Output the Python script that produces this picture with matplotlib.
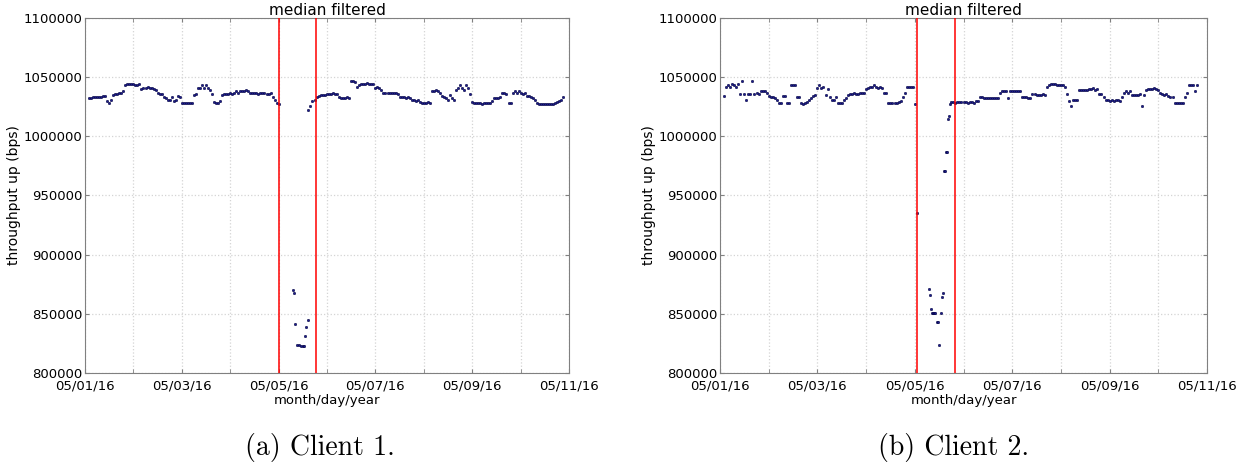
import numpy as np
import matplotlib
matplotlib.use("Agg")
import matplotlib.pyplot as plt
import matplotlib.dates as mdates
from matplotlib.ticker import FormatStrFormatter

nan = np.nan

# hourly throughput (kbps), hour 0 = 05/01/16 00:00
c1_kbps = [
    nan, nan, 1032, 1032, 1033, 1033, 1033, 1033, 1033, 1034, 1034, 1030,
    1028, 1031, 1035, 1036, 1036, 1037, 1037, 1038, 1043, 1044, 1044, 1044,
    1044, 1043, 1043, 1044, 1040, 1041, 1041, 1042, 1041, 1041, 1040, 1039,
    1037, 1036, 1036, 1033, 1032, 1031, 1031, 1033, 1030, 1031, 1034, 1033,
    1028, 1028, 1028, 1028, 1028, 1028, 1035, 1036, 1041, 1041, 1043, 1041,
    1043, 1041, 1039, 1036, 1029, 1028, 1028, 1030, 1035, 1036, 1036, 1036,
    1037, 1036, 1037, 1038, 1037, 1038, 1038, 1038, 1039, 1038, 1037, 1037,
    1037, 1037, 1036, 1037, 1037, 1037, 1036, 1036, 1037, 1033, 1031, 1028,
    1027, nan, nan, nan, nan, nan, nan, nan, nan, nan, nan, nan,
    nan, nan, nan, nan, nan, nan, 1031, 1033, 1034, 1035, 1035, 1035,
    1036, 1036, 1036, 1037, 1036, 1036, 1033, 1032, 1032, 1032, 1033, 1032,
    1047, 1047, 1046, 1042, 1043, 1044, 1044, 1044, 1045, 1044, 1044, 1044,
    1041, 1042, 1041, 1039, 1037, 1037, 1037, 1037, 1037, 1037, 1037, 1036,
    1033, 1033, 1033, 1032, 1033, 1032, 1031, 1031, 1030, 1031, 1029, 1028,
    1028, 1028, 1029, 1028, 1038, 1038, 1039, 1038, 1037, 1034, 1033, 1032,
    1031, 1035, 1032, 1031, 1039, 1041, 1043, 1041, 1039, 1043, 1041, 1036,
    1029, 1028, 1028, 1028, 1028, 1027, 1028, 1028, 1028, 1028, 1030, 1032,
    1032, 1032, 1033, 1037, 1037, 1036, 1028, 1028, 1037, 1038, 1037, 1038,
    1037, 1036, 1037, 1034, 1034, 1033, 1032, 1031, 1028, 1027, 1027, 1027,
    1027, 1027, 1027, 1027, 1027, 1028, 1029, 1030, 1031, 1033, nan, nan,
]
c1_dip_hours = [103.2, 103.6, 104.2, 105.2, 106.0, 107.0, 108.0, 108.6, 109.2,
                109.7, 110.6, 110.8, 111.6, 112.6]
c1_dip_kbps = [870, 868, 841, 824, 824, 823, 823, 823, 831,
               839, 845, 1022, 1026, 1030]

c2_kbps = [
    nan, nan, 1034, 1042, 1043, 1042, 1044, 1043, 1042, 1044, 1036, 1047,
    1036, 1031, 1036, 1036, 1047, 1036, 1037, 1036, 1038, 1038, 1038, 1037,
    1034, 1033, 1033, 1032, 1031, 1028, 1028, 1034, 1034, 1028, 1028, 1043,
    1043, 1043, 1033, 1033, 1028, 1027, 1028, 1029, 1031, 1032, 1034, 1035,
    1041, 1043, 1041, 1042, 1035, 1040, 1033, 1031, 1031, 1033, 1028, 1028,
    1028, 1031, 1032, 1035, 1036, 1036, 1037, 1036, 1036, 1037, 1037, 1037,
    1040, 1041, 1042, 1042, 1043, 1042, 1041, 1042, 1041, 1037, 1037, 1028,
    1028, 1028, 1028, 1028, 1029, 1030, 1033, 1037, 1042, 1042, 1042, 1042,
    1027, nan, nan, nan, nan, nan, nan, nan, nan, nan, nan, nan,
    nan, nan, nan, nan, nan, nan, 1029, 1029, 1028, 1029, 1029, 1029,
    1029, 1029, 1028, 1029, 1029, 1028, 1030, 1030, 1033, 1033, 1032, 1032,
    1032, 1032, 1032, 1032, 1032, 1032, 1037, 1038, 1038, 1038, 1032, 1038,
    1038, 1038, 1038, 1038, 1038, 1033, 1033, 1033, 1032, 1032, 1036, 1036,
    1035, 1035, 1035, 1036, 1035, 1042, 1043, 1044, 1044, 1044, 1043, 1043,
    1043, 1043, 1042, 1036, 1030, 1026, 1031, 1031, 1031, 1039, 1039, 1039,
    1039, 1039, 1040, 1040, 1041, 1039, 1040, 1036, 1036, 1033, 1031, 1031,
    1030, 1031, 1030, 1031, 1031, 1030, 1033, 1037, 1038, 1037, 1038, 1035,
    1035, 1035, 1035, 1036, 1026, 1035, 1039, 1040, 1040, 1040, 1041, 1040,
    1039, 1037, 1036, 1035, 1036, 1034, 1033, 1033, 1028, 1028, 1028, 1028,
    1028, 1033, 1037, 1043, 1043, 1043, 1038, 1043, nan, nan, nan, nan,
]
c2_dip_hours = [97.0, 103.0, 103.5, 104.0, 104.5, 105.0, 105.5, 106.0, 107.0,
                107.5, 108.0, 109.0, 109.4, 110.0, 110.4, 110.9, 111.4, 111.8,
                112.4, 113.0, 113.4]
c2_dip_kbps = [935, 871, 866, 854, 851, 851, 851, 851, 843,
               843, 824, 851, 864, 868, 971, 971, 987, 987,
               1015, 1017, 1027]

# change points (hours after 05/01/16 00:00)
c1_events = [96.0, 114.3]
c2_events = [97.0, 116.0]

captions = ["(a) Client 1.", "(b) Client 2."]

START = np.datetime64("2016-05-01T00:00")
DOT = dict(linestyle="none", marker="o", ms=1.7, mfc="#1a1a90", mec="#00003c",
           mew=0.4, zorder=3)


def to_time(hours):
    secs = (np.asarray(hours, dtype=float) * 3600).round().astype("int64")
    return START + secs.astype("timedelta64[s]")


def draw_client(ax, kbps, dip_hours, dip_kbps, events):
    hours = np.arange(len(kbps))
    ax.plot(to_time(hours), np.array(kbps, dtype=float) * 1000, **DOT)
    ax.plot(to_time(dip_hours), np.array(dip_kbps) * 1000, **DOT)
    for h in events:
        ax.axvline(to_time([h])[0], color="red", lw=1.1, zorder=4)

    ax.set_xlim(np.datetime64("2016-05-01"), np.datetime64("2016-05-11"))
    ax.set_ylim(800000, 1100000)
    ax.set_yticks(np.arange(800000, 1100001, 50000))
    ax.yaxis.set_major_formatter(FormatStrFormatter("%d"))
    ax.xaxis.set_major_locator(mdates.DayLocator(bymonthday=[1, 3, 5, 7, 9, 11]))
    ax.xaxis.set_minor_locator(mdates.DayLocator())
    ax.xaxis.set_major_formatter(mdates.DateFormatter("%m/%d/%y"))
    ax.grid(True, which="both", color="#d4d4d4", linestyle=":", lw=0.9)
    ax.tick_params(which="both", direction="in", top=True, right=True,
                   labelsize=9.5, color="#808080", length=3)
    ax.tick_params(axis="x", pad=5)
    ax.tick_params(axis="y", pad=2)
    for s in ax.spines.values():
        s.set_color("#808080")
    ax.set_title("median filtered", fontsize=11, pad=1)
    ax.set_xlabel("month/day/year", fontsize=9.5, labelpad=1)
    ax.set_ylabel("throughput up (bps)", fontsize=10, labelpad=2)


fig = plt.figure(figsize=(12.44, 4.68), dpi=100)
ax1 = fig.add_axes([85 / 1244, 1 - 373 / 468, 484 / 1244, 355 / 468])
ax2 = fig.add_axes([720 / 1244, 1 - 373 / 468, 487 / 1244, 355 / 468])

draw_client(ax1, c1_kbps, c1_dip_hours, c1_dip_kbps, c1_events)
draw_client(ax2, c2_kbps, c2_dip_hours, c2_dip_kbps, c2_events)

fig.text(320 / 1244, 1 - 447 / 468, captions[0], family="cmr10", fontsize=20,
         ha="center", va="center")
fig.text(954 / 1244, 1 - 447 / 468, captions[1], family="cmr10", fontsize=20,
         ha="center", va="center")

fig.savefig("out.png", dpi=100)
